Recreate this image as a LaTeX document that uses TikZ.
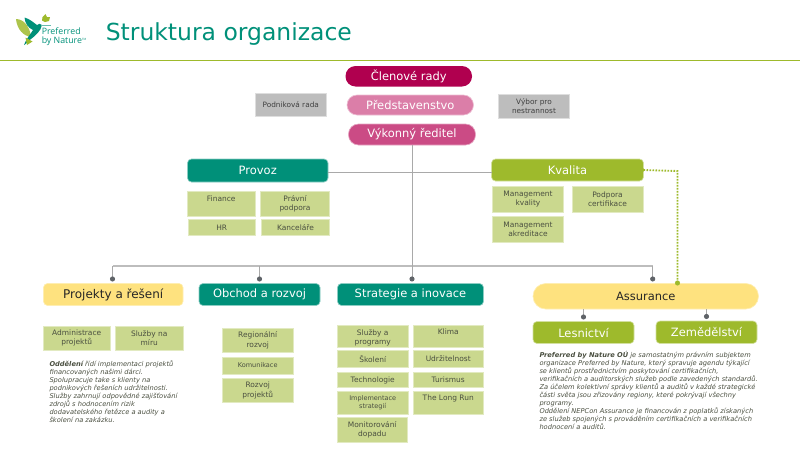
\documentclass[tikz,border=0pt]{standalone}
\usepackage{fontspec}
\setmainfont{DejaVu Sans}
\newfontfamily\logofont{Open Sans}
\usetikzlibrary{arrows.meta}
\definecolor{teal1}{HTML}{009079}
\definecolor{lime1}{HTML}{9EBA2C}
\definecolor{pale1}{HTML}{CAD88E}
\definecolor{sun1}{HTML}{FEE27F}
\definecolor{mag1}{HTML}{B0004F}
\definecolor{mag2}{HTML}{DB7EA8}
\definecolor{mag3}{HTML}{CB4B85}
\definecolor{grey1}{HTML}{BDBDBD}
\definecolor{wire}{HTML}{A9A9A9}
\definecolor{buswire}{HTML}{BDBDBD}
\definecolor{dotc}{HTML}{5F6368}
\definecolor{ink}{HTML}{4A4F40}
\newcommand{\bx}[7]{\node[#2,minimum width={(#5-#3)*0.75pt},minimum height={(#6-#4)*0.75pt}] (#1) at ({(#3+#5)/2},{(#4+#6)/2}) {#7};}
\newcommand{\lowr}{\rule{0pt}{6.6pt}}
\tikzset{
 base/.style={inner sep=0pt,outer sep=0pt,align=center,line width=0.5pt},
 pill/.style={base,rounded corners=7.5pt,text=white,font=\fontsize{8.6}{10}\selectfont},
 head/.style={base,rounded corners=3pt,font=\fontsize{8.6}{10}\selectfont},
 tealh/.style={head,fill=teal1,draw=teal1!45,text=white},
 limeh/.style={head,fill=lime1,draw=lime1!45,text=white},
 sunh/.style={head,fill=sun1,draw=sun1!60,text=black!85},
 cell/.style={base,fill=pale1,draw=pale1!55,text=ink,font=\fontsize{5.6}{6.95}\selectfont},
 cellS/.style={cell,font=\fontsize{4.9}{6}\selectfont},
 greybox/.style={base,fill=grey1,draw=grey1!50,text=black!75,font=\fontsize{5.5}{7}\selectfont},
 note/.style={inner sep=0pt,outer sep=0pt,anchor=north west,align=left,text=ink,font=\fontsize{5}{6}\selectfont\itshape},
 link/.style={draw=wire,line width=0.7pt},
 droplink/.style={link,-{Circle[length=3.8pt,width=3.8pt,color=dotc]},shorten >=1.5pt},
 dotlink/.style={draw=lime1,line width=1.4pt,dash pattern=on 1.2pt off 1.05pt},
}
\begin{document}
\begin{tikzpicture}[x=0.75pt,y=-0.75pt]
\useasboundingbox (0,0) rectangle (800,450);
% header
\draw[draw=lime1,line width=1.1pt] (0,60.5) -- (800,60.5);
\node[anchor=west,inner sep=0pt,text=teal1,font=\fontsize{17.6}{22}\selectfont] (title) at (105.5,34) {Struktura organizace};
% logo
\fill[lime1!85!white] (16,19) .. controls (24,19) and (30,27) .. (31,37) .. controls (24,36) and (17,30) .. (16,19) -- cycle;
\fill[teal1] (24.5,17.5) .. controls (30,19) and (34,23) .. (37,25) .. controls (38,23) and (41,24) .. (42,25) .. controls (41,31) and (35,36) .. (31,39) .. controls (29,41) and (26,44) .. (24,45) .. controls (26,39) and (30,35) .. (33,30) .. controls (28,28) and (25,23) .. (24.5,17.5) -- cycle;
\draw[teal1!60,line width=0.35pt] (41,25) -- (50.5,25);
\fill[lime1] (25.5,37.5) -- (32.5,41.5) -- (27,45) -- cycle;
\fill[lime1] (45.5,14) -- (47,17) -- (50,17) -- (49,21) -- (45,22) -- (42,20.5) -- (42.5,17) -- cycle;
\node[anchor=west,inner sep=0pt,align=left,text=teal1,font=\logofont\fontsize{6.6}{6.6}\selectfont] (logotext) at (41.5,36.5) {Preferred\\by Nature\raisebox{2pt}{\fontsize{2.2}{3}\selectfont TM}};
% top
\bx{members}{pill,fill=mag1}{345.5}{66}{472}{86.5}{Členové rady}
\bx{board}{pill,fill=mag2,draw=mag2!50}{347}{95}{473.5}{115}{Představenstvo}
\bx{ceo}{pill,fill=mag3,draw=mag3!50}{348.5}{124}{475.5}{145}{Výkonný ředitel}
\bx{corp}{greybox}{255.5}{93.5}{326}{116}{Podniková rada}
\bx{impart}{greybox}{498.5}{94.5}{569.5}{118}{Výbor pro\\nestrannost}
% second level
\bx{prov}{tealh}{187.5}{159}{328}{182}{Provoz}
\bx{kval}{limeh}{491.5}{159}{643.5}{181}{Kvalita}
\bx{fin}{cell}{187.5}{191}{255}{216.5}{Finance\\~}
\bx{law}{cell}{260.5}{191.5}{329.5}{216.5}{Právní\\podpora}
\bx{hr}{cell}{188.5}{219.5}{255}{235.5}{HR}
\bx{off}{cell}{261.5}{219.5}{329.5}{235.5}{Kanceláře}
\bx{mq}{cell}{492.5}{186.5}{563.5}{212}{Management\\kvality}
\bx{cs}{cell}{572}{186}{643}{212}{Podpora\\certifikace}
\bx{ma}{cell}{492.5}{216.5}{563.5}{242.5}{Management\\akreditace}
% third level
\bx{proj}{sunh,font=\fontsize{9}{10}\selectfont}{43.5}{283.5}{183}{305.5}{Projekty a řešení}
\bx{obch}{tealh}{199}{283.5}{320}{305.5}{Obchod a rozvoj}
\bx{strat}{tealh}{337.5}{283.5}{483.5}{305.5}{Strategie a inovace}
\bx{assur}{sunh,rounded corners=9.5pt}{533}{283.5}{758.5}{309}{Assurance}
\bx{les}{limeh}{533}{321.5}{634}{343.5}{Lesnictví}
\bx{zem}{limeh}{656}{321}{757}{343.5}{Zemědělství}
\bx{adm}{cell}{43}{326}{110.5}{350}{Administrace\\projektů}
\bx{tail}{cell}{115}{326}{183.5}{350}{Služby na\\míru}
\bx{reg}{cell}{222.5}{328.5}{293}{352}{Regionální\\rozvoj}
\bx{kom}{cellS}{222.5}{357}{293}{374}{Komunikace}
\bx{roz}{cell}{222.5}{378.5}{293}{402.5}{Rozvoj\\projektů}
\bx{sp}{cell}{337.5}{325.5}{408}{347.5}{\lowr Služby a\\programy}
\bx{sk}{cell}{337.5}{350.5}{408}{367.5}{Školení}
\bx{tech}{cell}{337.5}{372.5}{408}{387.5}{Technologie}
\bx{impl}{cellS}{337.5}{391.5}{408}{414}{Implementace\\strategií}
\bx{mon}{cell}{337}{417.5}{407.5}{442}{Monitorování\\dopadu}
\bx{kli}{cell}{413}{325.5}{483.5}{347.5}{Klima\\~}
\bx{udr}{cell}{413}{350.5}{483.5}{367.5}{Udržitelnost}
\bx{tur}{cell}{413}{372.5}{483.5}{387.5}{Turismus}
\bx{lon}{cell}{413}{391.5}{483.5}{414}{The Long Run\\~}
% notes
\node[note] (noteL) at (49.5,360.5) {\textbf{Oddělení} řídí implementaci projektů\\financovaných našimi dárci.\\Spolupracuje take s klienty na\\podnikových řešeních udržitelnosti.\\Služby zahrnují odpovědné zajišťování\\zdrojů s hodnocením rizik\\dodavatelského řetězce a audity a\\školení na zakázku.};
\node[note] (noteR) at (539.5,351.5) {\textbf{Preferred by Nature OÚ} je samostatným právním subjektem\\organizace Preferred by Nature, který spravuje agendu týkající\\se klientů prostřednictvím poskytování certifikačních,\\verifikačních a auditorských služeb podle zavedených standardů.\\Za účelem kolektivní správy klientů a auditů v každé strategické\\části světa jsou zřizovány regiony, které pokrývají všechny\\programy.\\Oddělení NEPCon Assurance je financován z poplatků získaných\\ze služeb spojených s prováděním certifikačních a verifikačních\\hodnocení a auditů.};
% connectors
\coordinate (busL) at (112.5,266);
\coordinate (busO) at (259.5,266);
\coordinate (busS) at (412,266);
\coordinate (busR) at (652.7,266);
\coordinate (mid) at (412,172.5);
\coordinate (dotc) at (677.5,171);
\draw[link] (prov.east |- mid) -- (kval.west |- mid);
\draw[link,draw=buswire,line width=1pt] (busL) -- (busR);
\draw[droplink] (ceo.south -| busS) -- (strat.north -| busS);
\draw[droplink] (busL) -- (proj.north -| busL);
\draw[droplink] (busO) -- (obch.north -| busO);
\draw[droplink] (busR) -- (assur.north -| busR);
\draw[droplink] (assur.south -| les) -- (les.north);
\draw[droplink] (assur.south -| zem) -- (zem.north);
\draw[dotlink] (kval.east) -- (dotc) -- (assur.north -| dotc);
\fill[lime1] (kval.east) circle (1.3pt);
\fill[lime1] (assur.north -| dotc) ++(0,-0.5) circle (1.9pt);
\end{tikzpicture}
\end{document}
